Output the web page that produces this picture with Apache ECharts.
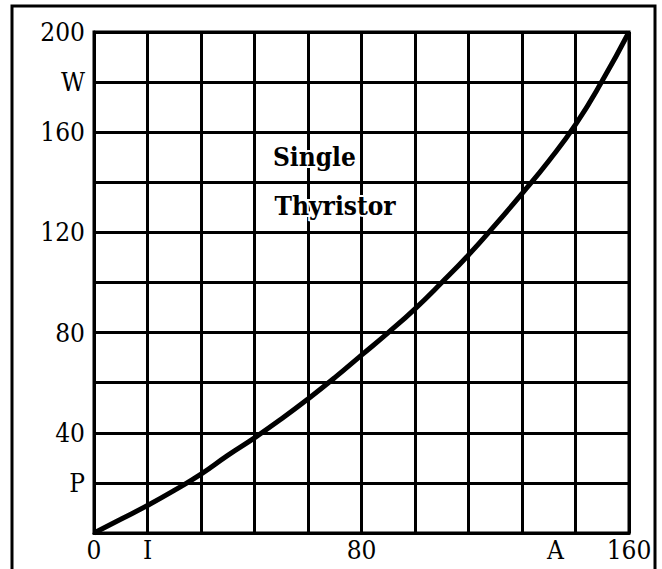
<!DOCTYPE html>
<html>
<head>
<meta charset="utf-8">
<script src="https://cdn.jsdelivr.net/npm/echarts@6/dist/echarts.min.js"></script>
<style>html,body{margin:0;padding:0;background:#fff}#c{width:662px;height:569px}</style>
</head>
<body>
<div id="c"></div>
<script>
// Current (A) sampled every 8 units
const currentA = [0, 8, 16, 24, 32, 40, 48, 56, 64, 72, 80, 88, 96, 104, 112, 120, 128, 136, 144, 152, 160];
// Power loss (W)
const powerW = [0, 5.5, 11, 17, 23.5, 31, 38, 45.5, 53.5, 62, 71, 80, 89.5, 100, 111, 123, 135.5, 148.5, 163, 180.5, 200];
// Tick labels
const xTickValues = [0, 16, 80, 138, 160];
const xTickTexts = ['0', 'I', '80', 'A', '160'];
const yTickValues = [20, 40, 80, 120, 160, 180, 200];
const yTickTexts = ['P', '40', '80', '120', '160', 'W', '200'];
// Annotation
const noteLines = ['Single', 'Thyristor'];
const notePos = [[53.5, 150], [54, 130.5]];

const FONT = 'DejaVu Serif Condensed';
const chart = echarts.init(document.getElementById('c'), null, {renderer: 'svg'});
const lbl = {fontFamily: FONT, fontWeight: 'normal', fontSize: 26, color: '#000'};

chart.setOption({
  animation: false,
  backgroundColor: '#fff',
  grid: {left: 94, right: 33, top: 32, bottom: 36, show: true, borderColor: '#000', borderWidth: 3, backgroundColor: 'transparent'},
  graphic: [{type: 'rect', shape: {x: 12, y: 6, width: 643, height: 620}, style: {fill: 'none', stroke: '#000', lineWidth: 3}, silent: true}],
  xAxis: {
    type: 'value', min: 0, max: 160, interval: 16,
    axisLine: {show: true, lineStyle: {color: '#000', width: 3}},
    axisTick: {show: false},
    splitLine: {show: true, lineStyle: {color: '#000', width: 3}},
    axisLabel: Object.assign({
      customValues: xTickValues, margin: 4,
      formatter: v => xTickTexts[xTickValues.indexOf(v)]
    }, lbl)
  },
  yAxis: {
    type: 'value', min: 0, max: 200, interval: 20,
    axisLine: {show: true, lineStyle: {color: '#000', width: 3}},
    axisTick: {show: false},
    splitLine: {show: true, lineStyle: {color: '#000', width: 3}},
    axisLabel: Object.assign({
      customValues: yTickValues, margin: 9,
      formatter: v => yTickTexts[yTickValues.indexOf(v)]
    }, lbl)
  },
  series: [{
    type: 'line',
    data: currentA.map((x, i) => [x, powerW[i]]),
    smooth: 0.5,
    symbol: 'none',
    lineStyle: {color: '#000', width: 5},
    z: 3,
    markPoint: {
      symbol: 'circle', symbolSize: 0,
      data: noteLines.map((t, i) => ({name: t, coord: notePos[i], value: t})),
      label: Object.assign({
        show: true, position: 'right', distance: 0,
        formatter: p => p.name,
        textBorderColor: '#fff', textBorderWidth: 4
      }, lbl, {fontWeight: 'bold'})
    }
  }]
});
</script>
</body>
</html>
